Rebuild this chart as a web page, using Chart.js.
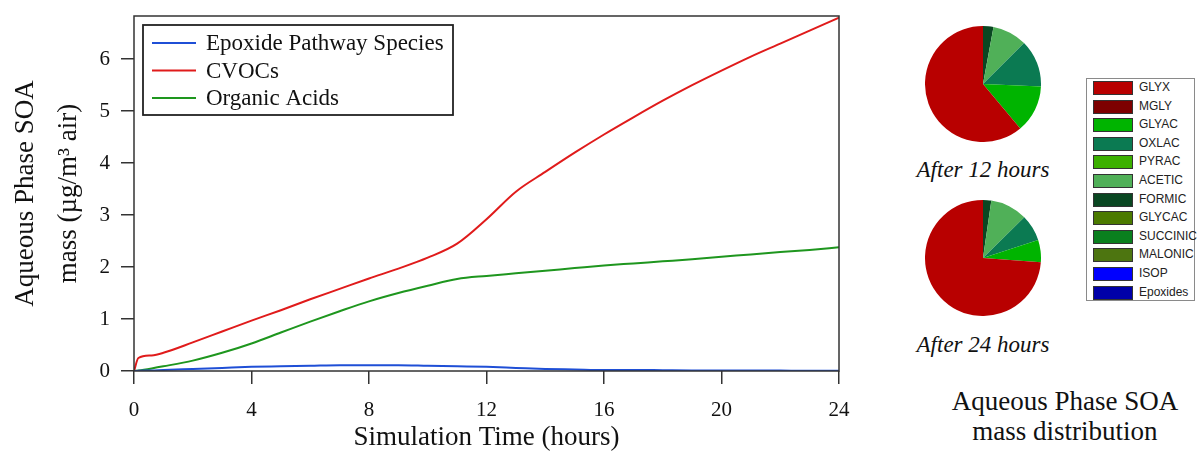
<!DOCTYPE html>
<html>
<head>
<meta charset="utf-8">
<script src="https://cdn.jsdelivr.net/npm/chart.js@4.4.1/dist/chart.umd.min.js"></script>
<style>
  body { margin: 0; background: #fff; width: 1198px; height: 454px; position: relative; overflow: hidden; }
  canvas { position: absolute; }
  .cap { position: absolute; font-family: "Liberation Serif", "Times New Roman", serif; color: #111; text-align: center; white-space: nowrap; }
  .italic { font-style: italic; font-size: 23px; line-height: 26px; width: 160px; }
  #pieLegend { position: absolute; left: 1086px; top: 78px; width: 109px; height: 223px; border: 1px solid #8a8a8a; box-sizing: border-box; }
  .row { position: absolute; left: 6px; height: 14px; font-family: "Liberation Sans", Arial, sans-serif; font-size: 12px; color: #222; }
  .sw { position: absolute; left: 0; top: 0; width: 38px; height: 12px; border: 1px solid #333; }
  .lb { position: absolute; left: 46px; top: -1px; line-height: 14px; }
</style>
</head>
<body>
<canvas id="lineChart" width="880" height="454" style="left:0;top:0"></canvas>
<canvas id="pie12" width="116" height="116" style="left:925px;top:26px"></canvas>
<canvas id="pie24" width="116" height="116" style="left:925px;top:200px"></canvas>
<div class="cap italic" style="left:903px;top:157px">After 12 hours</div>
<div class="cap italic" style="left:903px;top:332px">After 24 hours</div>
<div id="pieLegend"></div>
<div class="cap" style="left:915px;top:386px;width:300px;font-size:27px;line-height:30px">Aqueous Phase SOA<br>mass distribution</div>

<script>
// simulation time (hours) and aqueous SOA mass (ug/m3 air)
const hours    = [0, 0.15, 0.6, 1, 2, 3, 4, 5, 6, 7, 8, 9, 10, 11, 12, 13, 14, 15, 16, 17, 18, 19, 20, 21, 22, 23, 24];
const cvocs    = [0, 0.25, 0.3, 0.35, 0.55, 0.76, 0.97, 1.17, 1.38, 1.58, 1.78, 1.97, 2.18, 2.45, 2.92, 3.45, 3.83, 4.2, 4.55, 4.88, 5.2, 5.5, 5.78, 6.05, 6.3, 6.55, 6.8];
const acids    = [0, 0.01, 0.05, 0.09, 0.2, 0.35, 0.53, 0.74, 0.95, 1.15, 1.34, 1.5, 1.64, 1.77, 1.83, 1.88, 1.93, 1.98, 2.03, 2.07, 2.11, 2.15, 2.2, 2.24, 2.29, 2.33, 2.38];
const epoxides = [0, 0.005, 0.01, 0.02, 0.04, 0.06, 0.08, 0.09, 0.1, 0.11, 0.11, 0.11, 0.1, 0.09, 0.08, 0.06, 0.04, 0.03, 0.02, 0.02, 0.015, 0.01, 0.01, 0.01, 0.008, 0.005, 0.005];

const xTicks = [0, 4, 8, 12, 16, 20, 24];
const yTicks = [0, 1, 2, 3, 4, 5, 6];

// pie: mass fraction (%) per species
const species = ["GLYX", "MGLY", "GLYAC", "OXLAC", "PYRAC", "ACETIC", "FORMIC", "GLYCAC", "SUCCINIC", "MALONIC", "ISOP", "Epoxides"];
const speciesColors = ["#b80000", "#7d0000", "#00b400", "#0b7a52", "#3cb000", "#50b058", "#0a4722", "#4b7a00", "#0a7f1e", "#4d7510", "#0000ff", "#0000a8"];
const after12 = [61.1, 0, 13.2, 13.2, 0, 9.6, 2.9, 0, 0, 0, 0, 0];
const after24 = [73.8, 0, 6.2, 7.4, 0, 10.3, 2.3, 0, 0, 0, 0, 0];

const serif = '"Liberation Serif", "Times New Roman", serif';
const axisColor = '#333';

const pts = (ys) => hours.map((h, i) => ({ x: h, y: ys[i] }));

// frame + legend box inside the plot
const framePlugin = {
  id: 'frame',
  afterDraw(chart) {
    const { ctx, chartArea: a } = chart;
    ctx.save();
    ctx.strokeStyle = axisColor;
    ctx.lineWidth = 1.5;
    ctx.strokeRect(a.left, a.top, a.right - a.left, a.bottom - a.top);

    // legend
    const bx = a.left + 9, by = a.top + 9, bw = 310, bh = 90;
    ctx.lineWidth = 1.8;
    ctx.strokeStyle = '#222';
    ctx.strokeRect(bx, by, bw, bh);
    ctx.font = '23px ' + serif;
    ctx.textBaseline = 'middle';
    ctx.fillStyle = '#111';
    chart.data.datasets.forEach((ds, i) => {
      const y = by + 18 + i * 27.5;
      ctx.strokeStyle = ds.borderColor;
      ctx.lineWidth = 2;
      ctx.beginPath();
      ctx.moveTo(bx + 9, y);
      ctx.lineTo(bx + 53, y);
      ctx.stroke();
      ctx.fillText(ds.label, bx + 63, y + 1);
    });
    ctx.restore();
  }
};

new Chart(document.getElementById('lineChart'), {
  type: 'line',
  data: {
    datasets: [
      { label: 'Epoxide Pathway Species', data: pts(epoxides), borderColor: '#1f4fd6' },
      { label: 'CVOCs', data: pts(cvocs), borderColor: '#e01b1b' },
      { label: 'Organic Acids', data: pts(acids), borderColor: '#1e961e' }
    ]
  },
  options: {
    responsive: false,
    animation: false,
    layout: { padding: { left: 0, top: 16, right: 41, bottom: 0 } },
    elements: {
      point: { radius: 0 },
      line: { borderWidth: 2, cubicInterpolationMode: 'monotone' }
    },
    plugins: { legend: { display: false }, tooltip: { enabled: false } },
    scales: {
      x: {
        type: 'linear', min: 0, max: 24,
        afterBuildTicks: (s) => { s.ticks = xTicks.map(v => ({ value: v })); },
        afterFit: (s) => { s.height = 83; s.paddingLeft = 0; s.paddingRight = 0; },
        grid: { drawOnChartArea: false, drawTicks: true, tickLength: 13, color: axisColor, lineWidth: 1.5 },
        border: { display: false },
        ticks: { color: '#111', font: { family: serif, size: 21 }, padding: 14, maxRotation: 0 },
        title: { display: true, text: 'Simulation Time (hours)', color: '#111', font: { family: serif, size: 27 }, padding: { top: 0, bottom: 0 } }
      },
      y: {
        min: 0, max: 6.83,
        afterBuildTicks: (s) => { s.ticks = yTicks.map(v => ({ value: v })); },
        afterFit: (s) => { s.width = 134; s.paddingTop = 0; s.paddingBottom = 0; },
        grid: { drawOnChartArea: false, drawTicks: true, tickLength: 13, color: axisColor, lineWidth: 1.5 },
        border: { display: false },
        ticks: { color: '#111', font: { family: serif, size: 21 }, padding: 11 },
        title: { display: true, text: ['Aqueous Phase SOA', 'mass (µg/m³ air)'], color: '#111', font: { family: serif, size: 27, lineHeight: 1.6 }, padding: { top: 4, bottom: 0 } }
      }
    }
  },
  plugins: [framePlugin]
});

// pies drawn clockwise from the top, so feed species in reverse legend order
function pie(id, values) {
  new Chart(document.getElementById(id), {
    type: 'pie',
    data: {
      labels: species.slice().reverse(),
      datasets: [{
        data: values.slice().reverse(),
        backgroundColor: speciesColors.slice().reverse(),
        borderWidth: 0
      }]
    },
    options: {
      responsive: false,
      animation: false,
      layout: { padding: 0 },
      plugins: { legend: { display: false }, tooltip: { enabled: false } }
    }
  });
}
pie('pie12', after12);
pie('pie24', after24);

// shared legend for the pies
const leg = document.getElementById('pieLegend');
species.forEach((name, i) => {
  const row = document.createElement('div');
  row.className = 'row';
  row.style.top = (2 + i * 18.6) + 'px';
  row.innerHTML = '<div class="sw" style="background:' + speciesColors[i] + '"></div><div class="lb">' + name + '</div>';
  leg.appendChild(row);
});
</script>
</body>
</html>
